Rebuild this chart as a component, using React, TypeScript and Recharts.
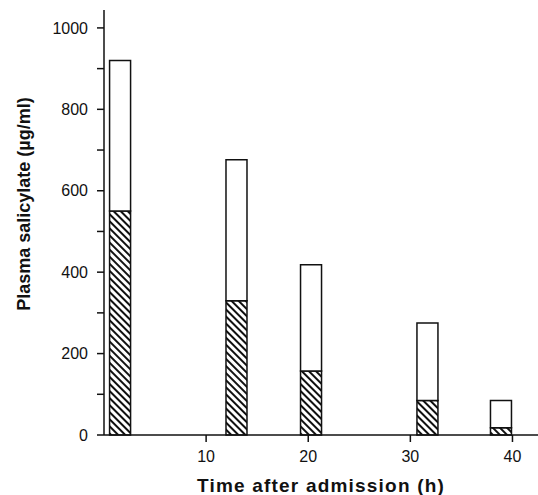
import { Bar, BarChart, Label, XAxis, YAxis } from "recharts";

// hours after admission
const times = [1.6, 13, 20.3, 31.7, 38.9];
// hatched (lower) part of each bar, µg/ml
const hatchedPart = [550, 330, 157, 85, 18];
// open (upper) part of each bar, µg/ml
const openPart = [370, 346, 261, 190, 67];

const yTicks = [0, 100, 200, 300, 400, 500, 600, 700, 800, 900, 1000];
const xTicks = [10, 20, 30, 40];

const rows = times.map((t, i) => ({
  t,
  hatched: hatchedPart[i],
  open: openPart[i],
}));

const font = "'Liberation Sans', Arial, sans-serif";
const ink = "#111";

export default function App() {
  return (
    <div style={{ position: "absolute", left: 0, top: 0, background: "#fff" }}>
      <BarChart
        width={538}
        height={495}
        data={rows}
        margin={{ top: 10, right: 0, bottom: 0, left: 0 }}
        barSize={21}
      >
        <defs>
          <pattern
            id="hatch"
            patternUnits="userSpaceOnUse"
            width="5"
            height="5"
            patternTransform="rotate(-45)"
          >
            <rect width="5" height="5" fill="#fff" />
            <line x1="1" y1="0" x2="1" y2="5" stroke={ink} strokeWidth="2" />
          </pattern>
        </defs>
        <XAxis
          dataKey="t"
          type="number"
          domain={[0, 42.5]}
          ticks={xTicks}
          height={60}
          tickSize={7}
          tickMargin={9}
          axisLine={{ stroke: ink, strokeWidth: 1.5 }}
          tickLine={{ stroke: ink, strokeWidth: 1.5 }}
          tick={{ fill: ink, fontSize: 16, fontFamily: font }}
        >
          <Label
            content={({ viewBox }: any) => (
              <text
                x={viewBox.x + viewBox.width / 2}
                y={viewBox.y + 57}
                textAnchor="middle"
                fontFamily={font}
                fontWeight="bold"
                fontSize={19}
                letterSpacing={1.2}
                fill={ink}
              >
                Time after admission (h)
              </text>
            )}
          />
        </XAxis>
        <YAxis
          type="number"
          domain={[0, 1044]}
          ticks={yTicks}
          width={104}
          tickSize={7}
          tickMargin={9}
          tickFormatter={(v: number) => (v % 200 === 0 ? String(v) : "")}
          axisLine={{ stroke: ink, strokeWidth: 1.5 }}
          tickLine={{ stroke: ink, strokeWidth: 1.5 }}
          tick={{ fill: ink, fontSize: 16, fontFamily: font }}
        >
          <Label
            content={({ viewBox }: any) => {
              const cx = viewBox.x + 24;
              const cy = viewBox.y + 194;
              return (
                <text
                  x={cx}
                  y={cy}
                  transform={`rotate(-90 ${cx} ${cy})`}
                  textAnchor="middle"
                  dominantBaseline="central"
                  fontFamily={font}
                  fontWeight="bold"
                  fontSize={18}
                  fill={ink}
                >
                  Plasma salicylate (µg/ml)
                </text>
              );
            }}
          />
        </YAxis>
        <Bar
          dataKey="hatched"
          stackId="s"
          fill="url(#hatch)"
          stroke={ink}
          strokeWidth={1.5}
          isAnimationActive={false}
        />
        <Bar
          dataKey="open"
          stackId="s"
          fill="#fff"
          stroke={ink}
          strokeWidth={1.5}
          isAnimationActive={false}
        />
      </BarChart>
    </div>
  );
}
